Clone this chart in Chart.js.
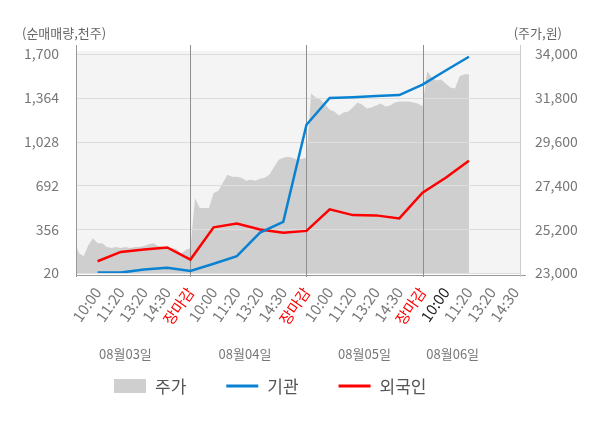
<!DOCTYPE html>
<html>
<head>
<meta charset="utf-8">
<script src="https://cdn.jsdelivr.net/npm/chart.js@4.4.0/dist/chart.umd.min.js"></script>
<style>
  html, body { margin: 0; padding: 0; background: #fff; }
  #wrap { width: 600px; height: 428px; }
</style>
</head>
<body>
<div id="wrap"><canvas id="chart"></canvas></div>
<script>
// bottom tick labels, one per slot (slot 1 .. 19)
const slotLabels = [
  "10:00", "11:20", "13:20", "14:30", "장마감",
  "10:00", "11:20", "13:20", "14:30", "장마감",
  "10:00", "11:20", "13:20", "14:30", "장마감",
  "10:00", "11:20", "13:20", "14:30"
];
const dayLabels = ["08월03일", "08월04일", "08월05일", "08월06일"];
const leftTicks = [20, 356, 692, 1028, 1364, 1700];
const rightTicks = [23000, 25200, 27400, 29600, 31800, 34000];

// net buying (thousand shares), slots 1 .. 17
const institution = [23, 23, 46, 61, 35, 91, 149, 330, 413, 1157, 1363, 1369, 1377, 1385, 1465, 1573, 1679];
const foreign = [110, 182, 200, 216, 123, 370, 400, 354, 328, 343, 508, 464, 462, 439, 636, 750, 882];

// share price (won), one value every 0.2 slot starting at slot 0
const price = [
  24650, 23990, 23840, 24400, 24750, 24500, 24500, 24300, 24250, 24300,
  24250, 24300, 24250, 24300, 24300, 24350, 24450, 24500, 24350, 24300,
  24250, 24250, 24200, 23990, 24150, 24250, 26770, 26260, 26260, 26260,
  27020, 27120, 27530, 27930, 27830, 27830, 27780, 27630, 27680, 27630,
  27730, 27780, 27930, 28330, 28690, 28790, 28840, 28790, 28690, 28740,
  28790, 32020, 31820, 31710, 31460, 31210, 31110, 30910, 31060, 31110,
  31310, 31560, 31460, 31260, 31310, 31410, 31510, 31360, 31410, 31560,
  31610, 31610, 31610, 31560, 31510, 31360, 33130, 32820, 32670, 32720,
  32520, 32320, 32270, 32880, 32980, 32980
];

const FONT = "'Noto Sans CJK KR', 'Noto Sans', sans-serif";
const BLUE = "#0a82d2";
const RED = "#ff0000";
const AREA = "#cfcfcf";

// plot background, grid lines, separators, titles and legend drawn by hand
const backdrop = {
  id: "backdrop",
  beforeDatasetsDraw(chart) {
    const { ctx, chartArea: a } = chart;
    ctx.save();
    ctx.fillStyle = "#f4f4f4";
    ctx.fillRect(a.left, a.top - 3, a.right - a.left, a.bottom - a.top + 3);
    ctx.restore();
  },
  afterDatasetDraw(chart, args) {
    if (args.index !== 2) return;
    const { ctx, chartArea: a, scales } = chart;
    ctx.save();
    ctx.lineWidth = 1;

    // horizontal grid
    ctx.strokeStyle = "#dddddd";
    leftTicks.forEach(v => {
      const y = Math.round(scales.y.getPixelForValue(v)) + 0.5;
      ctx.beginPath(); ctx.moveTo(a.left, y); ctx.lineTo(a.right, y); ctx.stroke();
    });

    // day separators + left axis
    ctx.strokeStyle = "#8f8f8f";
    [5, 10, 15].forEach(s => {
      const x = Math.round(scales.x.getPixelForValue(s)) + 0.5;
      ctx.beginPath(); ctx.moveTo(x, a.top - 9); ctx.lineTo(x, a.bottom + 4); ctx.stroke();
    });
    ctx.strokeStyle = "#999999";
    const lx = Math.round(a.left) + 0.5;
    ctx.beginPath(); ctx.moveTo(lx, a.top - 9); ctx.lineTo(lx, a.bottom + 4); ctx.stroke();

    // bottom axis line
    const by = Math.round(a.bottom) + 2.5;
    ctx.beginPath(); ctx.moveTo(a.left, by); ctx.lineTo(a.right + 6, by); ctx.stroke();

    // right axis line
    ctx.strokeStyle = "#cccccc";
    const rx = Math.round(a.right) + 0.5;
    ctx.beginPath(); ctx.moveTo(rx, a.top - 9); ctx.lineTo(rx, a.bottom + 4); ctx.stroke();
    ctx.restore();
  },
  afterDraw(chart) {
    const { ctx, scales } = chart;
    ctx.save();
    ctx.fillStyle = "#666";
    ctx.font = "13px " + FONT;
    ctx.textBaseline = "middle";
    ctx.textAlign = "left";
    ctx.fillText("(순매매량,천주)", 22, 33);
    ctx.textAlign = "right";
    ctx.fillText("(주가,원)", 562, 33);

    // day names under the time labels
    ctx.textAlign = "center";
    ctx.fillStyle = "#777";
    const dayAt = [2.2, 7.35, 12.5, 16.3];
    dayLabels.forEach((d, i) => {
      ctx.fillText(d, scales.x.getPixelForValue(dayAt[i]), 354);
    });

    // legend
    const items = [
      { text: "주가", color: AREA, box: true },
      { text: "기관", color: BLUE },
      { text: "외국인", color: RED }
    ];
    ctx.font = "17px " + FONT;
    ctx.textAlign = "left";
    let x = 114;
    const ly = 386;
    items.forEach(it => {
      if (it.box) {
        ctx.fillStyle = it.color;
        ctx.fillRect(x, ly - 7, 32, 14);
      } else {
        ctx.strokeStyle = it.color;
        ctx.lineWidth = 3;
        ctx.beginPath(); ctx.moveTo(x, ly); ctx.lineTo(x + 32, ly); ctx.stroke();
      }
      x += 32 + 9;
      ctx.fillStyle = "#555";
      ctx.fillText(it.text, x, ly + 1);
      x += ctx.measureText(it.text).width + 40;
    });
    ctx.restore();
  }
};

const chart = new Chart(document.getElementById("chart"), {
  type: "line",
  data: {
    datasets: [
      {
        label: "기관",
        data: institution.map((v, i) => ({ x: i + 1, y: v })),
        borderColor: BLUE,
        borderWidth: 2.5,
        pointRadius: 0,
        yAxisID: "y",
        order: 1
      },
      {
        label: "외국인",
        data: foreign.map((v, i) => ({ x: i + 1, y: v })),
        borderColor: RED,
        borderWidth: 2.5,
        pointRadius: 0,
        yAxisID: "y",
        order: 2
      },
      {
        label: "주가",
        data: price.map((v, i) => ({ x: Math.round(i * 2) / 10, y: v })),
        borderWidth: 0,
        borderColor: AREA,
        backgroundColor: AREA,
        fill: "start",
        pointRadius: 0,
        yAxisID: "y2",
        order: 3
      }
    ]
  },
  options: {
    responsive: true,
    maintainAspectRatio: false,
    animation: false,
    layout: { padding: { top: 54, left: 0, right: 0, bottom: 55 } },
    scales: {
      x: {
        type: "linear",
        min: 0.07,
        max: 19.2,
        grid: { display: false },
        border: { display: false },
        afterBuildTicks: s => { s.ticks = slotLabels.map((_, i) => ({ value: i + 1 })); },
        afterFit: s => { s.height = 100; },
        ticks: {
          autoSkip: false,
          minRotation: 55,
          maxRotation: 55,
          padding: 3,
          font: { family: FONT, size: 15 },
          color: c => {
            const lab = slotLabels[c.tick.value - 1];
            if (lab === "장마감") return RED;
            if (c.tick.value === 16) return "#222";
            return "#777";
          },
          callback: v => slotLabels[v - 1]
        }
      },
      y: {
        position: "left",
        min: 20,
        max: 1700,
        grid: { display: false },
        border: { display: false },
        afterBuildTicks: s => { s.ticks = leftTicks.map(v => ({ value: v })); },
        afterFit: s => { s.width = 76; },
        ticks: {
          padding: 9,
          color: "#777",
          font: { family: FONT, size: 14 },
          callback: v => v.toLocaleString("en-US")
        }
      },
      y2: {
        position: "right",
        min: 23000,
        max: 34000,
        grid: { display: false },
        border: { display: false },
        afterBuildTicks: s => { s.ticks = rightTicks.map(v => ({ value: v })); },
        afterFit: s => { s.width = 80; },
        ticks: {
          padding: 7,
          color: "#777",
          font: { family: FONT, size: 14 },
          callback: v => v.toLocaleString("en-US")
        }
      }
    },
    plugins: {
      tooltip: { enabled: false },
      legend: { display: false }
    }
  },
  plugins: [backdrop]
});
</script>
</body>
</html>
